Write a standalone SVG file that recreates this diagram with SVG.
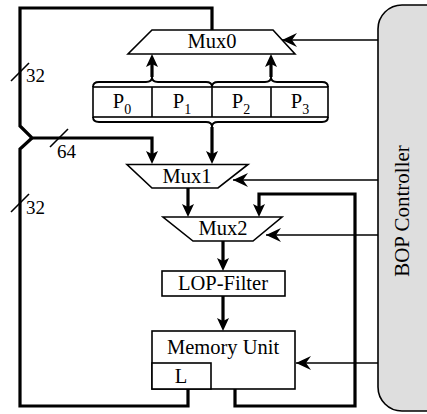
<svg xmlns="http://www.w3.org/2000/svg" width="427" height="414" viewBox="0 0 427 414">
<style>
.shape{fill:#fff;stroke:#000;stroke-width:1.6}
.bus{fill:none;stroke:#000;stroke-width:3.2;stroke-linejoin:miter}
.ctl{fill:none;stroke:#000;stroke-width:1.4}
.brace{fill:none;stroke:#000;stroke-width:1.8}
.t{font-family:"Liberation Serif","Times New Roman",serif;font-size:20.5px;fill:#000;text-anchor:middle}
.n{font-family:"Liberation Serif","Times New Roman",serif;font-size:19px;fill:#000}
.sub{font-size:14px}
</style>
<defs>
<marker id="thick" markerUnits="userSpaceOnUse" viewBox="-6 -7 16 14" refX="0" refY="0" markerWidth="16" markerHeight="14" orient="auto" overflow="visible">
<path d="M8,0 L-5,-6 L-2,0 L-5,6 Z" fill="#000"/>
</marker>
<marker id="thin" markerUnits="userSpaceOnUse" viewBox="-6 -7 16 14" refX="0" refY="0" markerWidth="16" markerHeight="14" orient="auto" overflow="visible">
<path d="M0,0 L-15,-7 L-10,0 L-15,7 Z" fill="#000"/>
</marker>
</defs>

<g id="controller">
<rect x="378" y="5" width="72" height="406" rx="24" ry="24" fill="#dedede" stroke="#000" stroke-width="1.6"/>
<text class="t" transform="translate(409,211) rotate(-90)" style="font-size:21px">BOP Controller</text>
</g>

<g id="mux0">
<polygon class="shape" points="152,30 273,30 295,54 128,54"/>
<text class="t" x="212" y="48">Mux0</text>
</g>

<g id="registers">
<rect class="shape" x="93" y="87" width="235" height="30" stroke-width="2"/>
<line x1="152" y1="87" x2="152" y2="117" stroke="#000" stroke-width="1.6"/>
<line x1="212" y1="87" x2="212" y2="117" stroke="#000" stroke-width="1.6"/>
<line x1="271" y1="87" x2="271" y2="117" stroke="#000" stroke-width="1.6"/>
<text class="t" x="122" y="108">P<tspan class="sub" dy="6">0</tspan></text>
<text class="t" x="182" y="108">P<tspan class="sub" dy="6">1</tspan></text>
<text class="t" x="241" y="108">P<tspan class="sub" dy="6">2</tspan></text>
<text class="t" x="300" y="108">P<tspan class="sub" dy="6">3</tspan></text>
<path class="brace" d="M93,87 Q93,82 99,82 L146,82 Q152,82 152,77 Q152,82 158,82 L206,82 Q212,82 212,87"/>
<path class="brace" d="M212,87 Q212,82 218,82 L265,82 Q271,82 271,77 Q271,82 277,82 L322,82 Q328,82 328,87"/>
<path class="brace" d="M93,117 Q93,122 99,122 L206,122 Q212,122 212,127 Q212,122 218,122 L322,122 Q328,122 328,117"/>
</g>

<g id="mux1">
<polygon class="shape" points="127,164.5 248,164.5 218,188 152,188"/>
<text class="t" x="187" y="183">Mux1</text>
</g>

<g id="mux2">
<polygon class="shape" points="163,217 282,217 253,241 193,241"/>
<text class="t" x="223" y="235">Mux2</text>
</g>

<g id="lop-filter">
<rect class="shape" x="162" y="271" width="123" height="25"/>
<text class="t" x="223" y="290">LOP-Filter</text>
</g>

<g id="memory-unit">
<rect class="shape" x="152" y="331" width="143" height="58"/>
<text class="t" x="223" y="354">Memory Unit</text>
<rect class="shape" x="152" y="363" width="59" height="26"/>
<text class="t" x="181" y="383">L</text>
</g>

<g id="connectors">
<path class="bus" d="M212,30 L212,8 L20,8 L20,126 L32,138 L144,138"/>
<path class="bus" d="M144,138 L152,138 L152,156" marker-end="url(#thick)"/>
<path class="bus" d="M188,389 L188,406 L20,406 L20,149 L32,138"/>
<line x1="11" y1="81" x2="29" y2="63" stroke="#000" stroke-width="1.6"/>
<text class="n" x="26" y="82">32</text>
<line x1="50" y1="147" x2="68" y2="129" stroke="#000" stroke-width="1.6"/>
<text class="n" x="57" y="158">64</text>
<line x1="11" y1="212" x2="29" y2="194" stroke="#000" stroke-width="1.6"/>
<text class="n" x="26" y="214">32</text>
<line class="bus" x1="152" y1="77" x2="152" y2="62" marker-end="url(#thick)"/>
<line class="bus" x1="271" y1="77" x2="271" y2="62" marker-end="url(#thick)"/>
<line class="bus" x1="212" y1="127" x2="212" y2="156" marker-end="url(#thick)"/>
<line class="bus" x1="188" y1="188" x2="188" y2="209" marker-end="url(#thick)"/>
<line class="bus" x1="223" y1="241" x2="223" y2="263" marker-end="url(#thick)"/>
<line class="bus" x1="223" y1="296" x2="223" y2="323" marker-end="url(#thick)"/>
<path class="bus" d="M235,389 L235,406 L355,406 L355,194 L259,194 L259,209" marker-end="url(#thick)"/>
<line class="ctl" x1="378" y1="40" x2="282" y2="40" marker-end="url(#thin)"/>
<line class="ctl" x1="378" y1="180" x2="233" y2="180" marker-end="url(#thin)"/>
<line class="ctl" x1="378" y1="235" x2="266" y2="235" marker-end="url(#thin)"/>
<line class="ctl" x1="378" y1="363" x2="296" y2="363" marker-end="url(#thin)"/>
</g>
</svg>
